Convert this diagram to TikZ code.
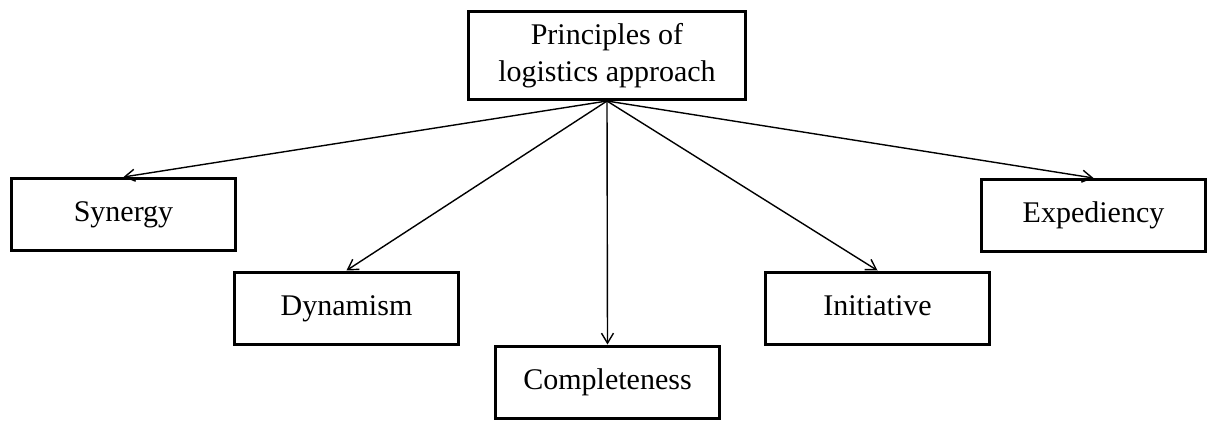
\documentclass[tikz,border=0pt]{standalone}
\usepackage{fontspec}
\setmainfont{Liberation Serif}
\usetikzlibrary{arrows.meta}
\begin{document}
\begin{tikzpicture}[x=1pt,y=-1pt,
  boxbase/.style={draw, line width=3pt, inner sep=0pt, align=center, font=\fontsize{30}{37}\selectfont},
  box/.style={boxbase, minimum width=224pt, minimum height=72pt, text height=21pt, text depth=7pt},
  conn/.style={line width=1.4pt, -{Straight Barb[length=10pt,width=12pt,line width=1.4pt]}}]
\useasboundingbox (0,0) rectangle (1211,421);
\node[boxbase, minimum width=277pt, minimum height=88pt] (top) at (607,55.5) {Principles of\\logistics approach};
\node[box] (syn) at (123.5,214.5) {Synergy};
\node[box] (dyn) at (346.5,308) {Dynamism};
\node[box] (com) at (607.5,382) {Completeness};
\node[box] (ini) at (877.5,308) {Initiative};
\node[box] (exp) at (1093.5,215.5) {Expediency};
\draw[conn] (top.south) -- (syn.north);
\draw[conn] (top.south) -- (dyn.north);
\draw[conn] (top.south) -- (com.north);
\draw[conn] (top.south) -- (ini.north);
\draw[conn] (top.south) -- (exp.north);
\end{tikzpicture}
\end{document}
